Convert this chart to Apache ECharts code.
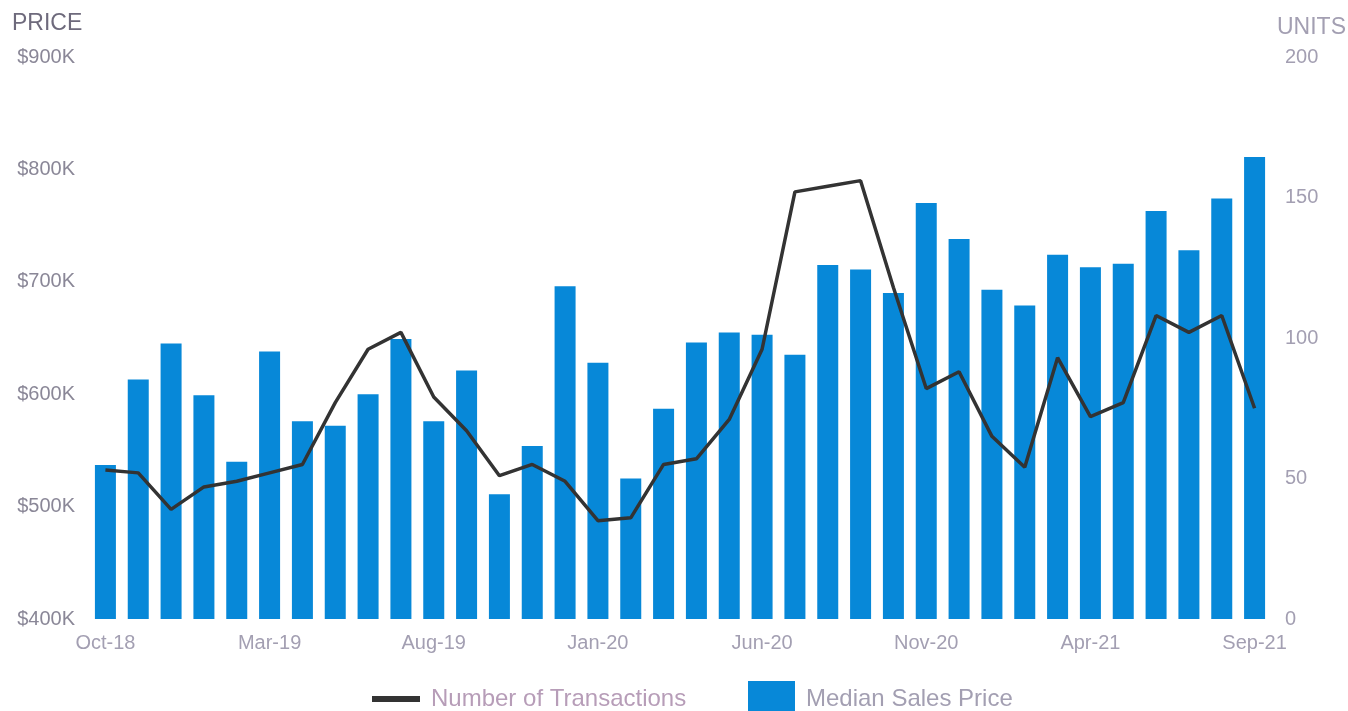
<!DOCTYPE html>
<html>
<head>
<meta charset="utf-8">
<script src="https://cdn.jsdelivr.net/npm/echarts@6/dist/echarts.min.js"></script>
<style>
html,body{margin:0;padding:0;background:#fff;}
#chart{width:1348px;height:711px;}
</style>
</head>
<body>
<div id="chart"></div>
<script>
const months = ['Oct-18','Nov-18','Dec-18','Jan-19','Feb-19','Mar-19','Apr-19','May-19','Jun-19','Jul-19','Aug-19','Sep-19',
  'Oct-19','Nov-19','Dec-19','Jan-20','Feb-20','Mar-20','Apr-20','May-20','Jun-20','Jul-20','Aug-20','Sep-20',
  'Oct-20','Nov-20','Dec-20','Jan-21','Feb-21','Mar-21','Apr-21','May-21','Jun-21','Jul-21','Aug-21','Sep-21'];
const medianPrice = [537000,613000,645000,599000,540000,638000,576000,572000,600000,649000,576000,621000,
  511000,554000,696000,628000,525000,587000,646000,655000,653000,635000,715000,711000,
  690000,770000,738000,693000,679000,724000,713000,716000,763000,728000,774000,811000];
const transactions = [53,52,39,47,49,52,55,77,96,102,79,67,
  51,55,49,35,36,55,57,71,96,152,154,156,
  118,82,88,65,54,93,72,77,108,102,108,75];
const priceTicks = {min:400000, max:900000, interval:100000};
const unitTicks = {min:0, max:200, interval:50};

const labelColor = '#a39fb2';
const chart = echarts.init(document.getElementById('chart'));
chart.setOption({
  animation:false,
  backgroundColor:'#ffffff',
  grid:{left:89,right:77,top:57,bottom:92},
  graphic:[
    {type:'text',left:12,top:12,style:{text:'PRICE',fontSize:23,fill:'#6e6a7c',fontFamily:'Liberation Sans'}},
    {type:'text',left:1277,top:16,style:{text:'UNITS',fontSize:23,fill:labelColor,fontFamily:'Liberation Sans'}}
  ],
  legend:[
    {data:[{name:'Number of Transactions',icon:'rect',itemStyle:{color:'#333333'}}],left:372,top:687,padding:0,
     itemWidth:48,itemHeight:6,textStyle:{fontSize:24,color:'#b79db8',fontFamily:'Liberation Sans',padding:[0,0,0,6]}},
    {data:[{name:'Median Sales Price',icon:'rect'}],left:748,top:681,padding:0,
     itemWidth:47,itemHeight:36,textStyle:{fontSize:24,color:labelColor,fontFamily:'Liberation Sans',padding:[4,0,0,6]}}
  ],
  xAxis:{type:'category',data:months,boundaryGap:true,
    axisLine:{show:false},axisTick:{show:false},
    axisLabel:{interval:4,color:labelColor,fontSize:20,fontFamily:'Liberation Sans',margin:14}},
  yAxis:[
    {type:'value',min:priceTicks.min,max:priceTicks.max,interval:priceTicks.interval,
     splitLine:{show:false},axisLine:{show:false},axisTick:{show:false},
     axisLabel:{color:'#8a8797',fontSize:20,fontFamily:'Liberation Sans',margin:14,
       formatter:v=>'$'+(v/1000)+'K'}},
    {type:'value',min:unitTicks.min,max:unitTicks.max,interval:unitTicks.interval,
     splitLine:{show:false},axisLine:{show:false},axisTick:{show:false},
     axisLabel:{color:labelColor,fontSize:20,fontFamily:'Liberation Sans',margin:14}}
  ],
  series:[
    {name:'Median Sales Price',type:'bar',data:medianPrice,yAxisIndex:0,barWidth:21,
     itemStyle:{color:'#0788d8'}},
    {name:'Number of Transactions',type:'line',data:transactions,yAxisIndex:1,
     showSymbol:false,symbol:'none',lineStyle:{color:'#333333',width:3.5},itemStyle:{color:'#333333'},z:5}
  ]
});
</script>
</body>
</html>
